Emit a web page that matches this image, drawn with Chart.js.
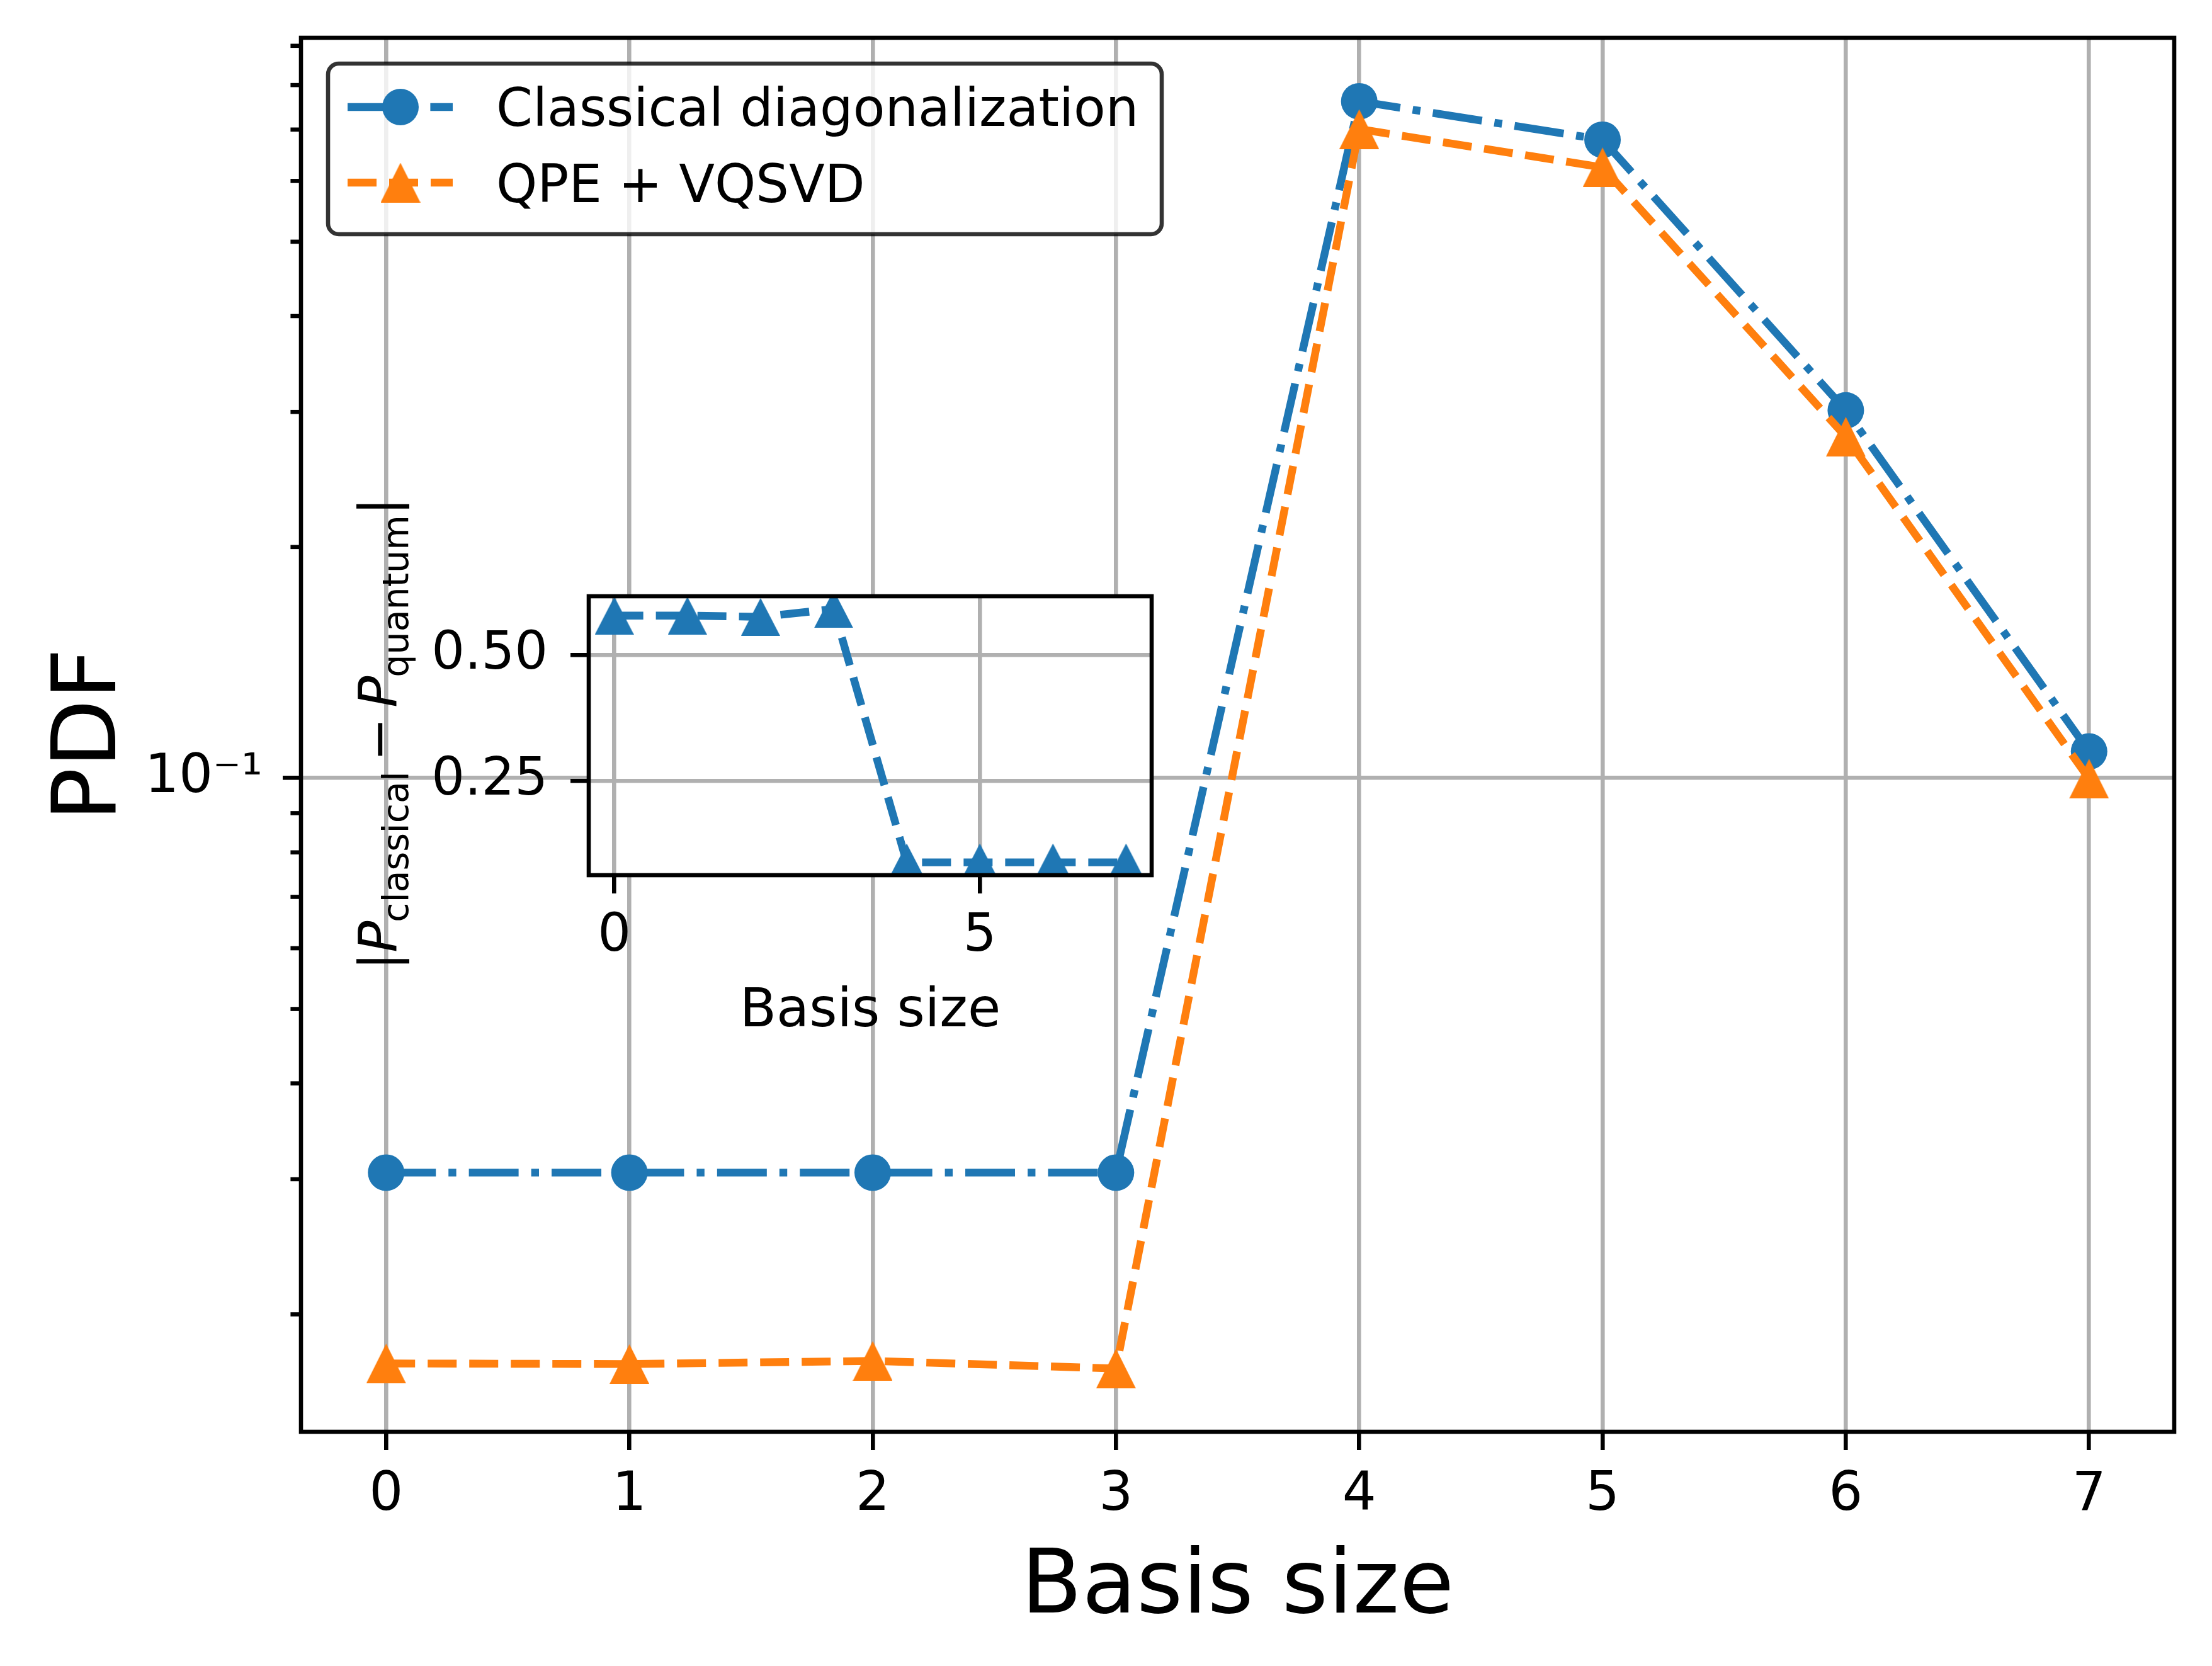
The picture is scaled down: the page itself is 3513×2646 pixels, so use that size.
<!DOCTYPE html>
<html>
<head>
<meta charset="utf-8">
<script src="https://cdn.jsdelivr.net/npm/chart.js@4.4.1/dist/chart.umd.min.js"></script>
<style>
  html, body { margin: 0; padding: 0; background: #ffffff; overflow: hidden; }
  #wrap { position: relative; width: 3513px; height: 2646px; }
  canvas { position: absolute; }
</style>
</head>
<body>
<div id="wrap">
  <canvas id="main" width="3513" height="2646" style="left:0px;top:0px;width:3513px;height:2646px;"></canvas>
  <canvas id="inset" width="1400" height="1000" style="left:500px;top:700px;width:1400px;height:1000px;"></canvas>
</div>
<script>
// ---------------- data ----------------
const basisSize = [0, 1, 2, 3, 4, 5, 6, 7];
const classicalPDF = [0.0306, 0.0306, 0.0306, 0.0306, 0.762, 0.679, 0.3014, 0.1083];
const quantumPDF = [0.01726, 0.01723, 0.01739, 0.0170, 0.701, 0.625, 0.2785, 0.0998];
const absDiff = [0.579, 0.579, 0.5765, 0.592, 0.088, 0.088, 0.088, 0.088];
const xTicksMain = [0, 1, 2, 3, 4, 5, 6, 7];
const yMajorTicksMain = [0.1];
const yMinorTicksMain = [0.02, 0.03, 0.04, 0.05, 0.06, 0.07, 0.08, 0.09, 0.2, 0.3, 0.4, 0.5, 0.6, 0.7, 0.8, 0.9];
const xTicksInset = [0, 5];
const yTicksInset = [0.25, 0.5];
const legendLabels = ['Classical diagonalization', 'QPE + VQSVD'];

// ---------------- styles ----------------
const FONT = '"DejaVu Sans", sans-serif';
const BLUE = '#1f77b4';
const ORANGE = '#ff7f0e';
const GRID = '#b0b0b0';
const LW = 12.4;
const DASHED = [46, 20];
const DASHDOT = [79, 20, 12.4, 20];
const AXLW = 6.6;
const FS = 83;

function triangleImage(color, w, h) {
  const c = document.createElement('canvas');
  c.width = w; c.height = h;
  const g = c.getContext('2d');
  g.fillStyle = color;
  g.beginPath();
  g.moveTo(w / 2, 0);
  g.lineTo(w, h);
  g.lineTo(0, h);
  g.closePath();
  g.fill();
  return c;
}
const triOrange = triangleImage(ORANGE, 63, 63);
const triBlue = triangleImage(BLUE, 62, 60);

function noScalePadding(s) {
  s.paddingTop = 0; s.paddingBottom = 0; s.paddingLeft = 0; s.paddingRight = 0;
}

const whiteBg = {
  id: 'whiteBg',
  beforeDraw(chart, args, opts) {
    const ctx = chart.ctx;
    ctx.save();
    ctx.fillStyle = '#ffffff';
    if (opts.full) {
      ctx.fillRect(0, 0, chart.width, chart.height);
    } else {
      const a = chart.chartArea;
      ctx.fillRect(a.left, a.top, a.right - a.left, a.bottom - a.top);
    }
    ctx.restore();
  }
};

const frame = {
  id: 'frame',
  afterDatasetsDraw(chart) {
    const ctx = chart.ctx, a = chart.chartArea;
    ctx.save();
    ctx.strokeStyle = '#000';
    ctx.lineWidth = AXLW;
    ctx.lineJoin = 'miter';
    ctx.strokeRect(a.left, a.top, a.right - a.left, a.bottom - a.top);
    ctx.restore();
  }
};

const minorTicks = {
  id: 'minorTicks',
  afterDraw(chart) {
    const ctx = chart.ctx, ys = chart.scales.y, a = chart.chartArea;
    ctx.save();
    ctx.strokeStyle = '#000';
    ctx.lineWidth = AXLW;
    yMinorTicksMain.forEach(v => {
      if (v < ys.min || v > ys.max) return;
      const py = ys.getPixelForValue(v);
      ctx.beginPath();
      ctx.moveTo(a.left - 16.6, py);
      ctx.lineTo(a.left, py);
      ctx.stroke();
    });
    ctx.restore();
  }
};

const mainLegend = {
  id: 'mainLegend',
  afterDatasetsDraw(chart) {
    const ctx = chart.ctx;
    const box = { left: 521, top: 101, right: 1845, bottom: 372, r: 17 };
    ctx.save();
    ctx.beginPath();
    ctx.roundRect(box.left, box.top, box.right - box.left, box.bottom - box.top, box.r);
    ctx.fillStyle = 'rgba(255,255,255,0.8)';
    ctx.fill();
    ctx.lineWidth = AXLW;
    ctx.strokeStyle = 'rgba(0,0,0,0.8)';
    ctx.stroke();
    const rows = [{ y: 170, base: 200 }, { y: 290, base: 321 }];
    chart.data.datasets.forEach((ds, i) => {
      const r = rows[i];
      ctx.save();
      ctx.strokeStyle = ds.borderColor;
      ctx.lineWidth = ds.borderWidth;
      ctx.setLineDash(ds.borderDash);
      ctx.lineCap = 'butt';
      ctx.beginPath();
      ctx.moveTo(552, r.y);
      ctx.lineTo(719, r.y);
      ctx.stroke();
      ctx.restore();
      if (ds.pointStyle === 'circle') {
        ctx.beginPath();
        ctx.fillStyle = ds.pointBackgroundColor;
        ctx.arc(636, r.y, ds.pointRadius, 0, Math.PI * 2);
        ctx.fill();
      } else {
        const im = ds.pointStyle;
        ctx.drawImage(im, 636 - im.width / 2, r.y - im.height / 2);
      }
      ctx.fillStyle = '#000';
      ctx.font = FS + 'px ' + FONT;
      ctx.textAlign = 'left';
      ctx.textBaseline = 'alphabetic';
      ctx.fillText(legendLabels[i], 788, r.base);
    });
    ctx.restore();
  }
};

const insetYLabel = {
  id: 'insetYLabel',
  afterDraw(chart) {
    const ctx = chart.ctx, a = chart.chartArea;
    const parts = [
      { t: '|', size: FS, style: 'normal', dy: 0, gap: 0 },
      { t: 'P', size: FS, style: 'italic', dy: 0, gap: -2 },
      { t: 'classical', size: 57, style: 'normal', dy: 18, gap: 16 },
      { t: '\u2212', size: FS, style: 'normal', dy: 0, gap: 16 },
      { t: 'P', size: FS, style: 'italic', dy: 0, gap: -2 },
      { t: 'quantum', size: 57, style: 'normal', dy: 18, gap: 0 },
      { t: '|', size: FS, style: 'normal', dy: 0, gap: 0 }
    ];
    ctx.save();
    let total = 0;
    parts.forEach(p => {
      ctx.font = p.style + ' ' + p.size + 'px ' + FONT;
      p.w = ctx.measureText(p.t).width;
      total += p.w + p.gap;
    });
    const bx = a.left - 305;
    const cy = (a.top + a.bottom) / 2 - 3;
    ctx.translate(bx, cy);
    ctx.rotate(-Math.PI / 2);
    ctx.fillStyle = '#000';
    ctx.textAlign = 'left';
    ctx.textBaseline = 'alphabetic';
    let x = -total / 2;
    parts.forEach(p => {
      ctx.font = p.style + ' ' + p.size + 'px ' + FONT;
      ctx.fillText(p.t, x, p.dy);
      x += p.w + p.gap;
    });
    ctx.restore();
  }
};

Chart.defaults.font.family = FONT;
Chart.defaults.color = '#000';

// ---------------- main chart ----------------
new Chart(document.getElementById('main'), {
  type: 'line',
  data: {
    datasets: [
      {
        label: legendLabels[0],
        data: basisSize.map((x, i) => ({ x: x, y: classicalPDF[i] })),
        borderColor: BLUE,
        backgroundColor: BLUE,
        borderWidth: LW,
        borderDash: DASHDOT,
        borderCapStyle: 'butt',
        borderJoinStyle: 'round',
        pointStyle: 'circle',
        pointRadius: 29,
        pointBorderWidth: 0,
        pointBackgroundColor: BLUE,
        pointBorderColor: BLUE,
        tension: 0,
        fill: false,
        order: 2
      },
      {
        label: legendLabels[1],
        data: basisSize.map((x, i) => ({ x: x, y: quantumPDF[i] })),
        borderColor: ORANGE,
        backgroundColor: ORANGE,
        borderWidth: LW,
        borderDash: DASHED,
        borderCapStyle: 'butt',
        borderJoinStyle: 'round',
        pointStyle: triOrange,
        pointRadius: 30,
        pointBorderWidth: 0,
        pointBackgroundColor: ORANGE,
        pointBorderColor: ORANGE,
        tension: 0,
        fill: false,
        order: 1
      }
    ]
  },
  options: {
    responsive: false,
    devicePixelRatio: 1,
    animation: false,
    events: [],
    layout: { padding: { left: 0, right: 60, top: 60, bottom: 0 }, autoPadding: false },
    plugins: { legend: { display: false }, tooltip: { enabled: false }, whiteBg: { full: true } },
    scales: {
      x: {
        type: 'linear',
        position: 'bottom',
        min: -0.35,
        max: 7.35,
        afterBuildTicks: s => { s.ticks = xTicksMain.map(v => ({ value: v })); },
        afterFit: s => { s.height = 372; noScalePadding(s); },
        ticks: {
          autoSkip: false, maxRotation: 0, minRotation: 0, padding: 22, color: '#000',
          font: { family: FONT, size: 85, lineHeight: 1.2 },
          callback: v => String(v)
        },
        grid: { color: GRID, lineWidth: AXLW, drawTicks: true, tickLength: 29, tickColor: '#000', tickWidth: AXLW },
        border: { display: false },
        title: { display: true, text: 'Basis size', color: '#000', font: { family: FONT, size: 141, lineHeight: 1 }, padding: { top: 0, bottom: 51 } }
      },
      y: {
        type: 'logarithmic',
        position: 'left',
        min: 0.01406,
        max: 0.922,
        afterBuildTicks: s => { s.ticks = yMajorTicksMain.map(v => ({ value: v, major: true })); },
        afterFit: s => { s.width = 478; noScalePadding(s); },
        ticks: {
          autoSkip: false, padding: 32, color: '#000',
          font: { family: FONT, size: 85, lineHeight: 1.2 },
          callback: v => (Math.abs(v - 0.1) < 1e-9 ? '10\u207B\u00B9' : '')
        },
        grid: { color: GRID, lineWidth: AXLW, drawTicks: true, tickLength: 29, tickColor: '#000', tickWidth: AXLW },
        border: { display: false },
        title: { display: true, text: 'PDF', color: '#000', font: { family: FONT, size: 141, lineHeight: 1 }, padding: { top: 76, bottom: 0 } }
      }
    }
  },
  plugins: [whiteBg, minorTicks, frame, mainLegend]
});

// ---------------- inset chart ----------------
new Chart(document.getElementById('inset'), {
  type: 'line',
  data: {
    datasets: [
      {
        label: '|P_classical - P_quantum|',
        data: basisSize.map((x, i) => ({ x: x, y: absDiff[i] })),
        borderColor: BLUE,
        backgroundColor: BLUE,
        borderWidth: LW,
        borderDash: DASHED,
        borderCapStyle: 'butt',
        borderJoinStyle: 'round',
        pointStyle: triBlue,
        pointRadius: 30,
        pointBorderWidth: 0,
        pointBackgroundColor: BLUE,
        tension: 0,
        fill: false,
        clip: 0
      }
    ]
  },
  options: {
    responsive: false,
    devicePixelRatio: 1,
    animation: false,
    events: [],
    layout: { padding: { left: 0, right: 71, top: 247, bottom: 0 }, autoPadding: false },
    plugins: { legend: { display: false }, tooltip: { enabled: false }, whiteBg: { full: false } },
    scales: {
      x: {
        type: 'linear',
        position: 'bottom',
        min: -0.35,
        max: 7.35,
        afterBuildTicks: s => { s.ticks = xTicksInset.map(v => ({ value: v })); },
        afterFit: s => { s.height = 310; noScalePadding(s); },
        ticks: {
          autoSkip: false, maxRotation: 0, minRotation: 0, padding: 20, color: '#000',
          font: { family: FONT, size: FS, lineHeight: 1.2 },
          callback: v => String(v)
        },
        grid: { color: GRID, lineWidth: AXLW, drawTicks: true, tickLength: 29, tickColor: '#000', tickWidth: AXLW },
        border: { display: false },
        title: { display: true, text: 'Basis size', color: '#000', font: { family: FONT, size: 85, lineHeight: 1 }, padding: { top: 0, bottom: 50 } }
      },
      y: {
        type: 'linear',
        position: 'left',
        min: 0.0625,
        max: 0.6175,
        afterBuildTicks: s => { s.ticks = yTicksInset.map(v => ({ value: v })); },
        afterFit: s => { s.width = 435; noScalePadding(s); },
        ticks: {
          autoSkip: false, padding: 36, color: '#000',
          font: { family: FONT, size: FS, lineHeight: 1.2 },
          callback: v => Number(v).toFixed(2)
        },
        grid: { color: GRID, lineWidth: AXLW, drawTicks: true, tickLength: 29, tickColor: '#000', tickWidth: AXLW },
        border: { display: false },
        title: { display: false }
      }
    }
  },
  plugins: [whiteBg, frame, insetYLabel]
});
</script>
</body>
</html>
